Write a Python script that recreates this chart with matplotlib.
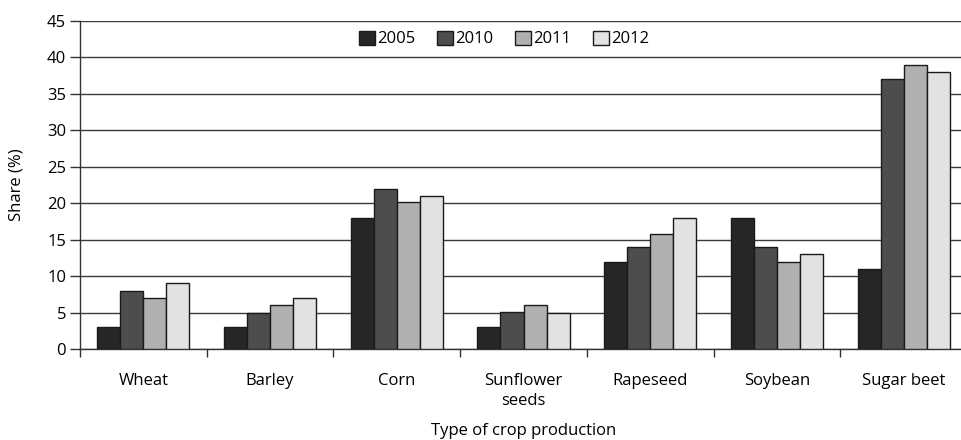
import numpy as np
import matplotlib.pyplot as plt
from matplotlib.ticker import FixedLocator

plt.rcParams['font.family'] = ['Open Sans', 'DejaVu Sans']
plt.rcParams['font.size'] = 12

crops = ['Wheat', 'Barley', 'Corn', 'Sunflower\nseeds', 'Rapeseed', 'Soybean', 'Sugar beet']
years = ['2005', '2010', '2011', '2012']
share_2005 = [3, 3, 18, 3, 12, 18, 11]
share_2010 = [8, 5, 22, 5.1, 14, 14, 37]
share_2011 = [7, 6, 20.2, 6.1, 15.8, 12, 39]
share_2012 = [9, 7, 21, 5, 18, 13, 38]
series = [share_2005, share_2010, share_2011, share_2012]
colors = ['#262626', '#4d4d4d', '#b0b0b0', '#e2e2e2']

fig = plt.figure(figsize=(9.61, 4.40), dpi=100)
ax = fig.add_axes([80 / 961, 1 - 349 / 440, 887 / 961, 328 / 440])

x = np.arange(len(crops))
width = 0.182
for i, (vals, c, yr) in enumerate(zip(series, colors, years)):
    ax.bar(x + (i - 1.5) * width, vals, width, color=c, edgecolor='#1a1a1a',
           linewidth=1.0, label=yr, zorder=3)

ax.set_xlim(-0.5, len(crops) - 0.5)
ax.set_ylim(0, 45)
ax.set_yticks(range(0, 46, 5))
ax.yaxis.grid(True, color='#3a3a3a', linewidth=1.0, zorder=0)
ax.set_axisbelow(True)

ax.set_xticks(x)
ax.set_xticklabels(crops, linespacing=1.35)
ax.xaxis.set_minor_locator(FixedLocator(np.arange(-0.5, len(crops), 1)))
ax.tick_params(axis='x', which='major', length=0, pad=17)
ax.tick_params(axis='x', which='minor', length=6, width=1.0, color='#333333')
ax.tick_params(axis='y', length=7, width=1.0, color='#333333', pad=3)

for side in ['top', 'right']:
    ax.spines[side].set_visible(False)
ax.spines['left'].set_color('#333333')
ax.spines['bottom'].set_color('#333333')
ax.spines['left'].set_linewidth(1.0)
ax.spines['bottom'].set_linewidth(1.0)

ax.set_ylabel('Share (%)', labelpad=16)
ax.set_xlabel('Type of crop production', labelpad=10)

ax.legend(loc='center', bbox_to_anchor=(0.478, 0.945), ncol=4, frameon=False,
          handlelength=0.95, handleheight=0.95, handletextpad=0.15,
          columnspacing=1.3, borderaxespad=0)

fig.savefig('out.png', dpi=100)
plt.close(fig)
